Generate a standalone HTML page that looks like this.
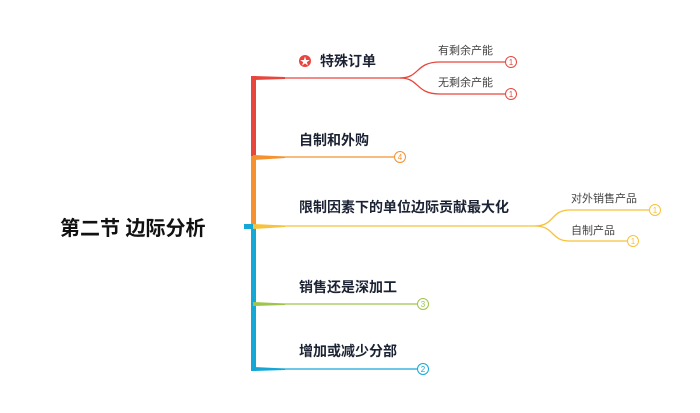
<!DOCTYPE html>
<html><head><meta charset="utf-8"><style>
body{margin:0;background:#fff;}
text{font-family:"Liberation Sans","Noto Sans CJK SC",sans-serif;}
.m{font-size:14px;font-weight:bold;fill:#1b2233;}
.s{font-size:11px;fill:#444;}
.n{font-size:8px;text-anchor:middle;}
</style></head><body>
<svg width="700" height="408" xmlns="http://www.w3.org/2000/svg">
<rect width="700" height="408" fill="#fff"/>
<!-- title -->
<text x="60" y="235" style="font-size:20px;font-weight:bold;fill:#111">第二节 边际分析</text>
<!-- trunk -->
<rect x="251" y="76" width="5" height="82" fill="#e8463c"/>
<rect x="251" y="156" width="5" height="71" fill="#f5922f"/>
<rect x="244" y="224" width="12" height="5" fill="#15a7d6"/>
<rect x="251" y="224" width="5" height="147" fill="#15a7d6"/>
<!-- red -->
<path d="M253 76 L285 77 L285 79 L253 80Z" fill="#e8463c"/>
<path d="M253 78 H400 C420 78 415 62 440 62 H505" stroke="#e8463c" stroke-width="1.3" fill="none"/>
<path d="M400 78 C420 78 415 94 440 94 H505" stroke="#e8463c" stroke-width="1.3" fill="none"/>
<circle cx="511" cy="62" r="5.5" fill="#fff" stroke="#e8463c"/><text x="511" y="65" class="n" fill="#e8463c">1</text>
<circle cx="511" cy="94" r="5.5" fill="#fff" stroke="#e8463c"/><text x="511" y="97" class="n" fill="#e8463c">1</text>
<circle cx="305" cy="61" r="6" fill="#e8463c"/><text x="305" y="65" class="n" fill="#fff" style="font-size:10px">★</text>
<text x="320" y="66" class="m">特殊订单</text>
<text x="438" y="54" class="s">有剩余产能</text>
<text x="438" y="86" class="s">无剩余产能</text>
<!-- orange -->
<path d="M253 155 L285 156.5 L285 158 L253 160Z" fill="#f5922f"/>
<path d="M253 157 H394" stroke="#f5922f" stroke-width="1.3"/>
<circle cx="400" cy="157" r="5.5" fill="#fff" stroke="#f5922f"/><text x="400" y="160" class="n" fill="#f5922f">4</text>
<text x="299" y="145" class="m">自制和外购</text>
<!-- yellow -->
<path d="M253 224 L285 225.5 L285 227 L253 229Z" fill="#f8c23a"/>
<path d="M253 226 H535 C555 226 550 210 570 210 H649" stroke="#f8c23a" stroke-width="1.3" fill="none"/>
<path d="M535 226 C555 226 550 241 570 241 H627" stroke="#f8c23a" stroke-width="1.3" fill="none"/>
<circle cx="655" cy="210" r="5.5" fill="#fff" stroke="#f8c23a"/><text x="655" y="213" class="n" fill="#f8c23a">1</text>
<circle cx="633" cy="241" r="5.5" fill="#fff" stroke="#f8c23a"/><text x="633" y="244" class="n" fill="#f8c23a">1</text>
<text x="299" y="212" class="m">限制因素下的单位边际贡献最大化</text>
<text x="571" y="202" class="s">对外销售产品</text>
<text x="571" y="234" class="s">自制产品</text>
<!-- green -->
<path d="M253 302 L285 303.5 L285 305 L253 306Z" fill="#9dc54a"/>
<path d="M253 304 H417" stroke="#9dc54a" stroke-width="1.3"/>
<circle cx="423" cy="304" r="5.5" fill="#fff" stroke="#9dc54a"/><text x="423" y="307" class="n" fill="#9dc54a">3</text>
<text x="299" y="292" class="m">销售还是深加工</text>
<!-- blue -->
<path d="M253 367 L285 368.5 L285 370 L253 371Z" fill="#15a7d6"/>
<path d="M253 369 H417" stroke="#15a7d6" stroke-width="1.3"/>
<circle cx="423" cy="369" r="5.5" fill="#fff" stroke="#15a7d6"/><text x="423" y="372" class="n" fill="#15a7d6">2</text>
<text x="299" y="356" class="m">增加或减少分部</text>
</svg>
</body></html>
